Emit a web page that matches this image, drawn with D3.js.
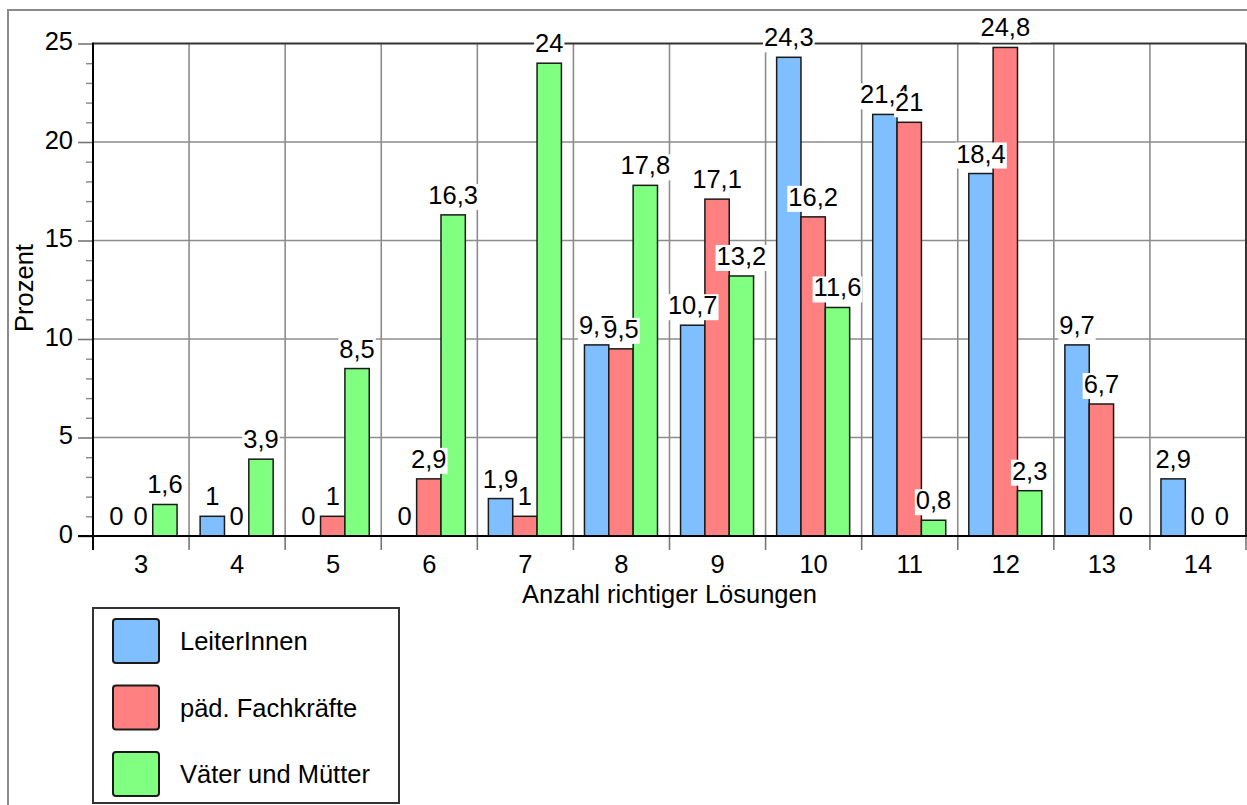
<!DOCTYPE html>
<html>
<head>
<meta charset="utf-8">
<script src="https://cdn.jsdelivr.net/npm/d3@7/dist/d3.min.js"></script>
<style>
  html, body { margin: 0; padding: 0; background: #fff; }
  svg { display: block; }
  text { font-family: "Liberation Sans", Arial, Helvetica, sans-serif; fill: #000; }
</style>
</head>
<body>
<svg id="chart" width="1247" height="805"></svg>
<script>
const categories = ["3","4","5","6","7","8","9","10","11","12","13","14"];
const seriesNames = ["LeiterInnen", "päd. Fachkräfte", "Väter und Mütter"];
const leiterInnen = [0, 1, 0, 0, 1.9, 9.7, 10.7, 24.3, 21.4, 18.4, 9.7, 2.9];
const fachkraefte = [0, 0, 1, 2.9, 1, 9.5, 17.1, 16.2, 21, 24.8, 6.7, 0];
const eltern = [1.6, 3.9, 8.5, 16.3, 24, 17.8, 13.2, 11.6, 0.8, 2.3, 0, 0];
const yTicks = [0, 5, 10, 15, 20, 25];
const yMinorTicks = [1,2,3,4,6,7,8,9,11,12,13,14,16,17,18,19,21,22,23,24];
const colors = ["#80bfff", "#ff8080", "#80ff80"];
const xTitle = "Anzahl richtiger Lösungen";
const yTitle = "Prozent";

const seriesValues = [leiterInnen, fachkraefte, eltern];

const svg = d3.select("#chart");
const L = 93, R = 1246, T = 43.5, B = 536;
const FS = 25.5;

// outer frame
svg.append("rect").attr("x", 8).attr("y", 10).attr("width", 1300).attr("height", 900)
  .attr("fill", "none").attr("stroke", "#8a8a8a").attr("stroke-width", 2);

const x = d3.scaleBand().domain(categories).range([L, R]).paddingInner(0).paddingOuter(0);
const bw = x.bandwidth();
const xs = d3.scaleBand().domain(d3.range(seriesNames.length)).range([bw * 0.115, bw * 0.875]).padding(0);
const y = d3.scaleLinear().domain([0, 25]).range([B, T]);

// grid
const grid = svg.append("g");
grid.selectAll("line.h").data(yTicks.filter(v => v > 0 && v < 25)).join("line")
  .attr("x1", L).attr("x2", R).attr("y1", d => y(d)).attr("y2", d => y(d))
  .attr("stroke", "#8c8c8c").attr("stroke-width", 1.6);
grid.selectAll("line.v").data(categories.slice(1)).join("line")
  .attr("x1", d => x(d)).attr("x2", d => x(d)).attr("y1", T).attr("y2", B)
  .attr("stroke", "#8c8c8c").attr("stroke-width", 1.6);
// plot border top/right
grid.append("line").attr("x1", L).attr("x2", R).attr("y1", y(25)).attr("y2", y(25))
  .attr("stroke", "#333").attr("stroke-width", 2);
grid.append("line").attr("x1", R).attr("x2", R).attr("y1", T).attr("y2", B)
  .attr("stroke", "#333").attr("stroke-width", 2);

// x tick marks at band boundaries
const bounds = categories.map(c => x(c)).concat([x(categories[categories.length - 1]) + bw]);
svg.append("g").selectAll("line").data(bounds).join("line")
  .attr("x1", d => d).attr("x2", d => d).attr("y1", B).attr("y2", B + 14)
  .attr("stroke", "#777").attr("stroke-width", 1.6);

// y axis minor ticks
const yMinor = svg.append("g").attr("transform", `translate(${L},0)`)
  .call(d3.axisLeft(y).tickValues(yMinorTicks).tickSize(7).tickFormat(""));
yMinor.select(".domain").remove();
yMinor.selectAll(".tick line").attr("stroke", "#888").attr("stroke-width", 1.4);

// y axis major
const yAx = svg.append("g").attr("transform", `translate(${L},0)`)
  .call(d3.axisLeft(y).tickValues(yTicks).tickSize(15).tickPadding(5).tickFormat(d3.format("d")));
yAx.select(".domain").remove();
yAx.selectAll(".tick line").attr("stroke", "#777").attr("stroke-width", 1.6);
yAx.selectAll(".tick text").attr("font-size", FS).attr("dy", "0.25em").style("font-family", '"Liberation Sans", Arial, sans-serif').attr("fill", "#000");

// x axis labels
const xAx = svg.append("g").attr("transform", `translate(0,${B})`)
  .call(d3.axisBottom(x).tickSize(0).tickPadding(19));
xAx.select(".domain").remove();
xAx.selectAll(".tick text").attr("font-size", FS).style("font-family", '"Liberation Sans", Arial, sans-serif').attr("fill", "#000");

// bars
const bars = svg.append("g");
seriesValues.forEach((vals, si) => {
  bars.selectAll(null).data(vals.map((v, i) => ({ v, c: categories[i] }))).join("rect")
    .attr("x", d => x(d.c) + xs(si))
    .attr("y", d => y(d.v))
    .attr("width", xs.bandwidth())
    .attr("height", d => y(0) - y(d.v))
    .attr("fill", colors[si])
    .attr("stroke", "#1a1a1a").attr("stroke-width", 1.5);
});

// axis lines (left and bottom)
svg.append("line").attr("x1", L).attr("x2", L).attr("y1", T - 1).attr("y2", B + 14)
  .attr("stroke", "#000").attr("stroke-width", 2);
svg.append("line").attr("x1", L - 15).attr("x2", R + 1).attr("y1", B).attr("y2", B)
  .attr("stroke", "#000").attr("stroke-width", 2);

// value labels
const fmt = v => String(v).replace(".", ",");
const labels = svg.append("g");
seriesValues.forEach((vals, si) => {
  vals.forEach((v, i) => {
    const cx = x(categories[i]) + xs(si) + xs.bandwidth() / 2;
    const g = labels.append("g");
    const t = g.append("text").attr("x", cx).attr("y", y(v) - 11)
      .attr("text-anchor", "middle").attr("font-size", FS).text(fmt(v));
    const bb = t.node().getBBox();
    g.insert("rect", "text").attr("x", bb.x - 1).attr("y", bb.y + 3)
      .attr("width", bb.width + 2).attr("height", bb.height - 2).attr("fill", "#fff");
  });
});

// titles
svg.append("text").attr("x", (L + R) / 2).attr("y", 603).attr("text-anchor", "middle")
  .attr("font-size", FS).text(xTitle);
svg.append("text").attr("transform", "translate(33,288) rotate(-90)").attr("text-anchor", "middle")
  .attr("font-size", FS).text(yTitle);

// legend
const lg = svg.append("g");
lg.append("rect").attr("x", 93).attr("y", 608).attr("width", 306).attr("height", 195)
  .attr("fill", "#fff").attr("stroke", "#333").attr("stroke-width", 2);
seriesNames.forEach((name, i) => {
  const cy = 641 + i * 66.5;
  lg.append("rect").attr("x", 113).attr("y", cy - 22).attr("width", 46).attr("height", 44)
    .attr("rx", 3).attr("fill", colors[i]).attr("stroke", "#1a1a1a").attr("stroke-width", 2);
  lg.append("text").attr("x", 180).attr("y", cy + 9).attr("font-size", FS).text(name);
});
</script>
</body>
</html>
